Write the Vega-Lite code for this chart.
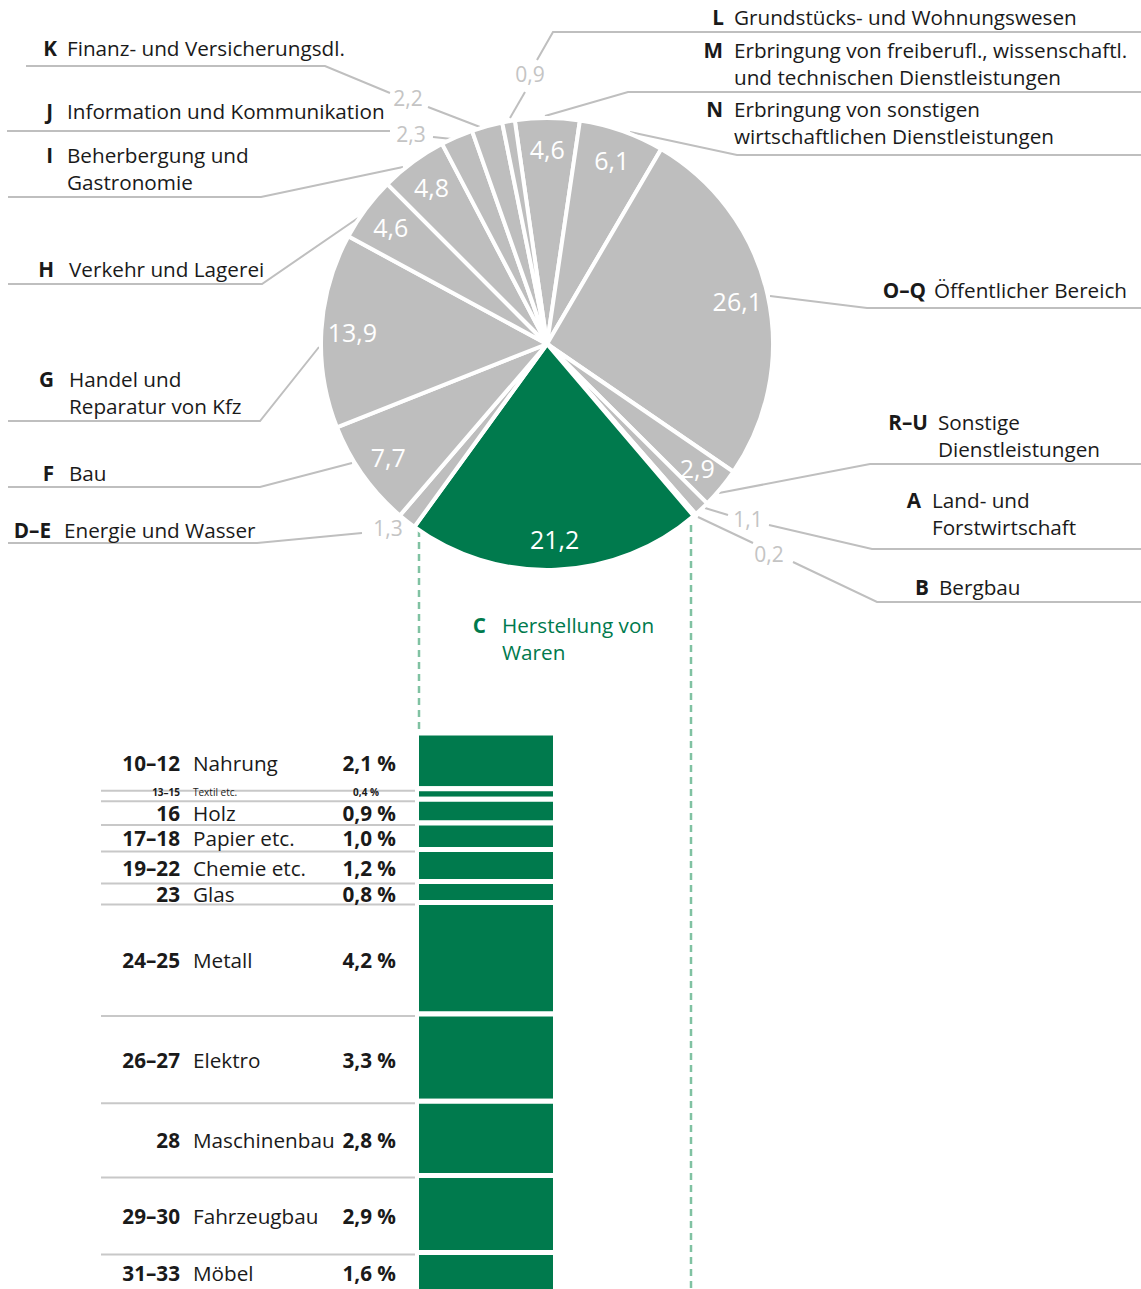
{
  "$schema": "https://vega.github.io/schema/vega-lite/v6.json",
  "width": 1141,
  "height": 1289,
  "autosize": {"type": "none"},
  "padding": 0,
  "background": "white",
  "datasets": {
    "sectors": [
      {"code": "M", "value": 4.6, "idx": 1},
      {"code": "N", "value": 6.1, "idx": 2},
      {"code": "O–Q", "value": 26.1, "idx": 3},
      {"code": "R–U", "value": 2.9, "idx": 4},
      {"code": "A", "value": 1.1, "idx": 5},
      {"code": "B", "value": 0.2, "idx": 6},
      {"code": "C", "value": 21.2, "idx": 7},
      {"code": "D–E", "value": 1.3, "idx": 8},
      {"code": "F", "value": 7.7, "idx": 9},
      {"code": "G", "value": 13.9, "idx": 10},
      {"code": "H", "value": 4.6, "idx": 11},
      {"code": "I", "value": 4.8, "idx": 12},
      {"code": "J", "value": 2.3, "idx": 13},
      {"code": "K", "value": 2.2, "idx": 14},
      {"code": "L", "value": 0.9, "idx": 15}
    ],
    "manufacturing": [
      {"nace": "10–12", "name": "Nahrung", "value": 2.1, "idx": 1},
      {"nace": "13–15", "name": "Textil etc.", "value": 0.4, "idx": 2},
      {"nace": "16", "name": "Holz", "value": 0.9, "idx": 3},
      {"nace": "17–18", "name": "Papier etc.", "value": 1.0, "idx": 4},
      {"nace": "19–22", "name": "Chemie etc.", "value": 1.2, "idx": 5},
      {"nace": "23", "name": "Glas", "value": 0.8, "idx": 6},
      {"nace": "24–25", "name": "Metall", "value": 4.2, "idx": 7},
      {"nace": "26–27", "name": "Elektro", "value": 3.3, "idx": 8},
      {"nace": "28", "name": "Maschinenbau", "value": 2.8, "idx": 9},
      {"nace": "29–30", "name": "Fahrzeugbau", "value": 2.9, "idx": 10},
      {"nace": "31–33", "name": "Möbel", "value": 1.6, "idx": 11}
    ],
    "labels": [
      {"code": "K", "text": "Finanz- und Versicherungsdl.", "cx": 57, "nx": 67, "y": 56},
      {"code": "J", "text": "Information und Kommunikation", "cx": 53, "nx": 67, "y": 119},
      {"code": "I", "text": "Beherbergung und\nGastronomie", "cx": 53, "nx": 67, "y": 163},
      {"code": "H", "text": "Verkehr und Lagerei", "cx": 54, "nx": 69, "y": 277},
      {"code": "G", "text": "Handel und\nReparatur von Kfz", "cx": 54, "nx": 69, "y": 387},
      {"code": "F", "text": "Bau", "cx": 54, "nx": 69, "y": 481},
      {"code": "D–E", "text": "Energie und Wasser", "cx": 51, "nx": 64, "y": 538},
      {"code": "L", "text": "Grundstücks- und Wohnungswesen", "cx": 724, "nx": 734, "y": 25},
      {"code": "M", "text": "Erbringung von freiberufl., wissenschaftl.\nund technischen Dienstleistungen", "cx": 723, "nx": 734, "y": 58},
      {"code": "N", "text": "Erbringung von sonstigen\nwirtschaftlichen Dienstleistungen", "cx": 723, "nx": 734, "y": 117},
      {"code": "O–Q", "text": "Öffentlicher Bereich", "cx": 926, "nx": 934, "y": 298},
      {"code": "R–U", "text": "Sonstige\nDienstleistungen", "cx": 928, "nx": 938, "y": 430},
      {"code": "A", "text": "Land- und\nForstwirtschaft", "cx": 921, "nx": 932, "y": 508},
      {"code": "B", "text": "Bergbau", "cx": 929, "nx": 939, "y": 595},
      {"code": "C", "text": "Herstellung von\nWaren", "cx": 486, "nx": 502, "y": 633}
    ],
    "outer": [
      {"code": "L", "x": 530, "y": 76},
      {"code": "K", "x": 408, "y": 100},
      {"code": "J", "x": 411, "y": 136},
      {"code": "D–E", "x": 388, "y": 530},
      {"code": "A", "x": 748, "y": 521},
      {"code": "B", "x": 769, "y": 556}
    ],
    "leaders": [
      {"id": "K1", "ord": 1, "x": 26, "y": 66}, {"id": "K1", "ord": 2, "x": 325, "y": 66}, {"id": "K1", "ord": 3, "x": 390, "y": 93},
      {"id": "K2", "ord": 1, "x": 428, "y": 107}, {"id": "K2", "ord": 2, "x": 480, "y": 127},
      {"id": "J1", "ord": 1, "x": 7, "y": 131}, {"id": "J1", "ord": 2, "x": 390, "y": 131},
      {"id": "J2", "ord": 1, "x": 433, "y": 137}, {"id": "J2", "ord": 2, "x": 452, "y": 139},
      {"id": "I", "ord": 1, "x": 8, "y": 197}, {"id": "I", "ord": 2, "x": 261, "y": 197}, {"id": "I", "ord": 3, "x": 403, "y": 167},
      {"id": "H", "ord": 1, "x": 8, "y": 284}, {"id": "H", "ord": 2, "x": 262, "y": 284}, {"id": "H", "ord": 3, "x": 358, "y": 218},
      {"id": "G", "ord": 1, "x": 8, "y": 421}, {"id": "G", "ord": 2, "x": 260, "y": 421}, {"id": "G", "ord": 3, "x": 319, "y": 347},
      {"id": "F", "ord": 1, "x": 8, "y": 487}, {"id": "F", "ord": 2, "x": 260, "y": 487}, {"id": "F", "ord": 3, "x": 352, "y": 463},
      {"id": "DE", "ord": 1, "x": 8, "y": 543}, {"id": "DE", "ord": 2, "x": 257, "y": 543}, {"id": "DE", "ord": 3, "x": 362, "y": 533},
      {"id": "L1", "ord": 1, "x": 1141, "y": 32}, {"id": "L1", "ord": 2, "x": 553, "y": 32}, {"id": "L1", "ord": 3, "x": 537, "y": 60},
      {"id": "L2", "ord": 1, "x": 525, "y": 92}, {"id": "L2", "ord": 2, "x": 510, "y": 118},
      {"id": "M", "ord": 1, "x": 1141, "y": 92}, {"id": "M", "ord": 2, "x": 628, "y": 92}, {"id": "M", "ord": 3, "x": 545, "y": 116},
      {"id": "N", "ord": 1, "x": 1141, "y": 155}, {"id": "N", "ord": 2, "x": 737, "y": 155}, {"id": "N", "ord": 3, "x": 630, "y": 132},
      {"id": "OQ", "ord": 1, "x": 1141, "y": 308}, {"id": "OQ", "ord": 2, "x": 867, "y": 308}, {"id": "OQ", "ord": 3, "x": 770, "y": 296},
      {"id": "RU", "ord": 1, "x": 1141, "y": 464}, {"id": "RU", "ord": 2, "x": 870, "y": 464}, {"id": "RU", "ord": 3, "x": 719, "y": 493},
      {"id": "A1", "ord": 1, "x": 1141, "y": 549}, {"id": "A1", "ord": 2, "x": 872, "y": 549}, {"id": "A1", "ord": 3, "x": 769, "y": 525},
      {"id": "A2", "ord": 1, "x": 728, "y": 515}, {"id": "A2", "ord": 2, "x": 705, "y": 508},
      {"id": "B1", "ord": 1, "x": 1141, "y": 602}, {"id": "B1", "ord": 2, "x": 877, "y": 602}, {"id": "B1", "ord": 3, "x": 793, "y": 562},
      {"id": "B2", "ord": 1, "x": 753, "y": 543}, {"id": "B2", "ord": 2, "x": 698, "y": 517}
    ],
    "guides": [
      {"x": 419, "y": 530, "y2": 733},
      {"x": 691, "y": 525, "y2": 1289}
    ]
  },
  "layer": [
    {
      "layer": [
        {
          "data": {"name": "leaders"},
          "mark": {"type": "line", "stroke": "#BFBFBF", "strokeWidth": 2},
          "encoding": {
            "x": {"field": "x", "type": "quantitative", "scale": {"domain": [0, 1141], "nice": false, "zero": false}, "axis": null},
            "y": {"field": "y", "type": "quantitative", "scale": {"domain": [0, 1289], "reverse": true, "nice": false, "zero": false}, "axis": null},
            "detail": {"field": "id"},
            "order": {"field": "ord", "type": "quantitative"}
          }
        },
        {
          "data": {"name": "guides"},
          "mark": {"type": "rule", "stroke": "#80C2A2", "strokeWidth": 2.5, "strokeDash": [7, 5]},
          "encoding": {
            "x": {"field": "x", "type": "quantitative", "scale": {"domain": [0, 1141], "nice": false, "zero": false}, "axis": null},
            "y": {"field": "y", "type": "quantitative", "scale": {"domain": [0, 1289], "reverse": true, "nice": false, "zero": false}, "axis": null},
            "y2": {"field": "y2"}
          }
        },
        {
          "data": {"name": "sectors"},
          "mark": {"type": "arc", "outerRadius": 226, "stroke": "white", "strokeWidth": 4},
          "encoding": {
            "theta": {"field": "value", "type": "quantitative", "stack": true, "scale": {"range": [-0.1431, 6.1401]}},
            "order": {"field": "idx", "type": "quantitative"},
            "x": {"datum": 547, "type": "quantitative", "scale": {"domain": [0, 1141], "nice": false, "zero": false}, "axis": null},
            "y": {"datum": 344, "type": "quantitative", "scale": {"domain": [0, 1289], "reverse": true, "nice": false, "zero": false}, "axis": null},
            "fill": {"condition": {"test": "datum.code === 'C'", "value": "#007A4D"}, "value": "#BEBEBE"}
          }
        },
        {
          "data": {"name": "sectors"},
          "transform": [{"calculate": "datum.value >= 2.5 ? format(datum.value, '.1f') : ''", "as": "lbl"}],
          "mark": {"type": "text", "radius": 195, "fontSize": 25, "color": "white", "baseline": "middle", "align": "center"},
          "encoding": {
            "theta": {"field": "value", "type": "quantitative", "stack": true, "scale": {"range": [-0.1431, 6.1401]}},
            "order": {"field": "idx", "type": "quantitative"},
            "x": {"datum": 547, "type": "quantitative", "scale": {"domain": [0, 1141], "nice": false, "zero": false}, "axis": null},
            "y": {"datum": 346, "type": "quantitative", "scale": {"domain": [0, 1289], "reverse": true, "nice": false, "zero": false}, "axis": null},
            "text": {"field": "lbl"}
          }
        },
        {
          "data": {"name": "outer"},
          "transform": [
            {"lookup": "code", "from": {"data": {"name": "sectors"}, "key": "code", "fields": ["value"]}},
            {"calculate": "format(datum.value, '.1f')", "as": "lbl"}
          ],
          "mark": {"type": "text", "fontSize": 21, "color": "#C4C4C4", "baseline": "middle", "align": "center"},
          "encoding": {
            "x": {"field": "x", "type": "quantitative", "scale": {"domain": [0, 1141], "nice": false, "zero": false}, "axis": null},
            "y": {"field": "y", "type": "quantitative", "scale": {"domain": [0, 1289], "reverse": true, "nice": false, "zero": false}, "axis": null},
            "text": {"field": "lbl"}
          }
        },
        {
          "data": {"name": "labels"},
          "mark": {"type": "text", "fontSize": 20.7, "fontWeight": "bold", "align": "right", "baseline": "alphabetic"},
          "encoding": {
            "x": {"field": "cx", "type": "quantitative", "scale": {"domain": [0, 1141], "nice": false, "zero": false}, "axis": null},
            "y": {"field": "y", "type": "quantitative", "scale": {"domain": [0, 1289], "reverse": true, "nice": false, "zero": false}, "axis": null},
            "text": {"field": "code"},
            "color": {"condition": {"test": "datum.code === 'C'", "value": "#007A4D"}, "value": "#1A1A1A"}
          }
        },
        {
          "data": {"name": "labels"},
          "mark": {"type": "text", "fontSize": 20.7, "align": "left", "baseline": "alphabetic", "lineBreak": "\n", "lineHeight": 27},
          "encoding": {
            "x": {"field": "nx", "type": "quantitative", "scale": {"domain": [0, 1141], "nice": false, "zero": false}, "axis": null},
            "y": {"field": "y", "type": "quantitative", "scale": {"domain": [0, 1289], "reverse": true, "nice": false, "zero": false}, "axis": null},
            "text": {"field": "text"},
            "color": {"condition": {"test": "datum.code === 'C'", "value": "#007A4D"}, "value": "#1A1A1A"}
          }
        }
      ]
    },
    {
      "data": {"name": "manufacturing"},
      "transform": [
        {"stack": "value", "groupby": [], "sort": [{"field": "idx", "order": "ascending"}], "as": ["y0", "y1"]},
        {"calculate": "(datum.y0 + min(datum.y1, 20.98)) / 2", "as": "mid"},
        {"calculate": "format(datum.value, '.1f') + ' %'", "as": "pct"}
      ],
      "layer": [
        {
          "mark": {"type": "rect", "fill": "#007A4D", "stroke": "white", "strokeWidth": 5, "clip": true},
          "encoding": {
            "x": {"datum": 416.5, "type": "quantitative", "scale": {"domain": [0, 1141], "nice": false, "zero": false}, "axis": null},
            "x2": {"datum": 555.5},
            "y": {"field": "y0", "type": "quantitative", "scale": {"domain": [-27.66, 20.98], "reverse": true, "nice": false, "zero": false}, "axis": null},
            "y2": {"field": "y1"}
          }
        },
        {
          "transform": [{"filter": "datum.idx < 11"}],
          "mark": {"type": "rule", "stroke": "#C8C8C8", "strokeWidth": 2, "yOffset": 2},
          "encoding": {
            "x": {"datum": 101, "type": "quantitative", "scale": {"domain": [0, 1141], "nice": false, "zero": false}, "axis": null},
            "x2": {"datum": 415},
            "y": {"field": "y1", "type": "quantitative", "scale": {"domain": [-27.66, 20.98], "reverse": true, "nice": false, "zero": false}, "axis": null}
          }
        },
        {
          "transform": [{"filter": "datum.value >= 0.5"}],
          "mark": {"type": "text", "fontWeight": "bold", "fontSize": 20.7, "align": "right", "baseline": "middle", "dy": 4, "color": "#1A1A1A"},
          "encoding": {
            "x": {"datum": 180, "type": "quantitative", "scale": {"domain": [0, 1141], "nice": false, "zero": false}, "axis": null},
            "y": {"field": "mid", "type": "quantitative", "scale": {"domain": [-27.66, 20.98], "reverse": true, "nice": false, "zero": false}, "axis": null},
            "text": {"field": "nace"}
          }
        },
        {
          "transform": [{"filter": "datum.value >= 0.5"}],
          "mark": {"type": "text", "fontSize": 20.7, "align": "left", "baseline": "middle", "dy": 4, "color": "#1A1A1A"},
          "encoding": {
            "x": {"datum": 193, "type": "quantitative", "scale": {"domain": [0, 1141], "nice": false, "zero": false}, "axis": null},
            "y": {"field": "mid", "type": "quantitative", "scale": {"domain": [-27.66, 20.98], "reverse": true, "nice": false, "zero": false}, "axis": null},
            "text": {"field": "name"}
          }
        },
        {
          "transform": [{"filter": "datum.value >= 0.5"}],
          "mark": {"type": "text", "fontWeight": "bold", "fontSize": 20.7, "align": "right", "baseline": "middle", "dy": 4, "color": "#1A1A1A"},
          "encoding": {
            "x": {"datum": 396, "type": "quantitative", "scale": {"domain": [0, 1141], "nice": false, "zero": false}, "axis": null},
            "y": {"field": "mid", "type": "quantitative", "scale": {"domain": [-27.66, 20.98], "reverse": true, "nice": false, "zero": false}, "axis": null},
            "text": {"field": "pct"}
          }
        },
        {
          "transform": [{"filter": "datum.value < 0.5"}],
          "mark": {"type": "text", "fontWeight": "bold", "fontSize": 10, "align": "right", "baseline": "middle", "dy": -1, "color": "#1A1A1A"},
          "encoding": {
            "x": {"datum": 180, "type": "quantitative", "scale": {"domain": [0, 1141], "nice": false, "zero": false}, "axis": null},
            "y": {"field": "mid", "type": "quantitative", "scale": {"domain": [-27.66, 20.98], "reverse": true, "nice": false, "zero": false}, "axis": null},
            "text": {"field": "nace"}
          }
        },
        {
          "transform": [{"filter": "datum.value < 0.5"}],
          "mark": {"type": "text", "fontSize": 10, "align": "left", "baseline": "middle", "dy": -1, "color": "#1A1A1A"},
          "encoding": {
            "x": {"datum": 193, "type": "quantitative", "scale": {"domain": [0, 1141], "nice": false, "zero": false}, "axis": null},
            "y": {"field": "mid", "type": "quantitative", "scale": {"domain": [-27.66, 20.98], "reverse": true, "nice": false, "zero": false}, "axis": null},
            "text": {"field": "name"}
          }
        },
        {
          "transform": [{"filter": "datum.value < 0.5"}],
          "mark": {"type": "text", "fontWeight": "bold", "fontSize": 10, "align": "right", "baseline": "middle", "dy": -1, "color": "#1A1A1A"},
          "encoding": {
            "x": {"datum": 379, "type": "quantitative", "scale": {"domain": [0, 1141], "nice": false, "zero": false}, "axis": null},
            "y": {"field": "mid", "type": "quantitative", "scale": {"domain": [-27.66, 20.98], "reverse": true, "nice": false, "zero": false}, "axis": null},
            "text": {"field": "pct"}
          }
        }
      ]
    }
  ],
  "resolve": {"scale": {"y": "independent"}},
  "config": {
    "view": {"stroke": null},
    "font": "Open Sans",
    "locale": {"number": {"decimal": ",", "thousands": ".", "grouping": [3], "currency": ["", " €"]}}
  }
}
